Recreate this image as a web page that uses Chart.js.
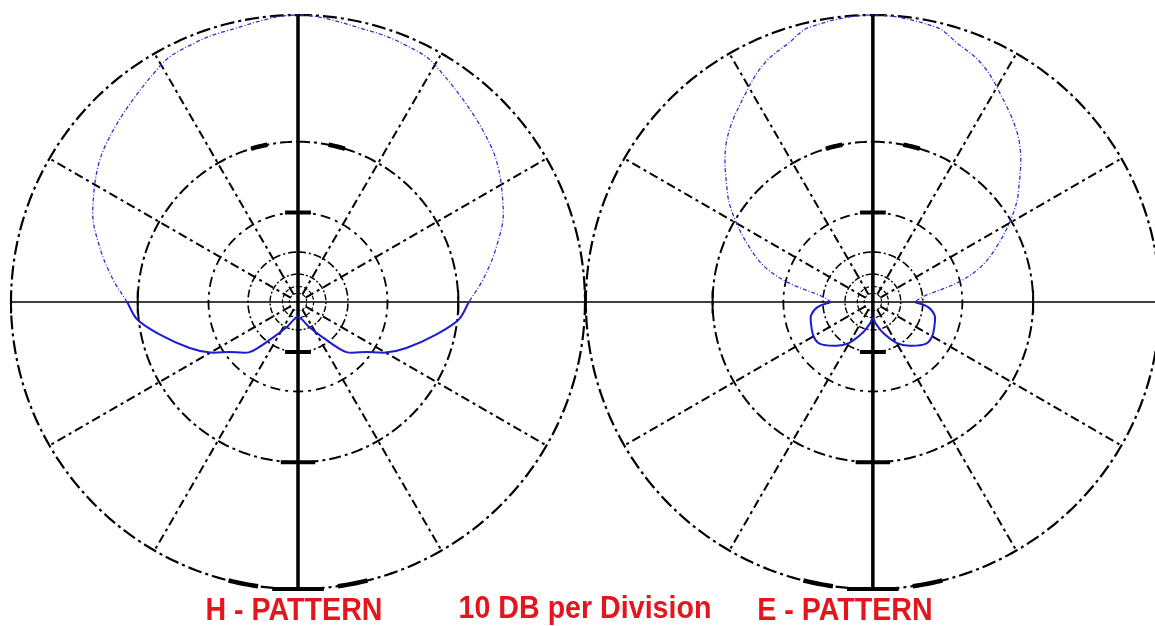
<!DOCTYPE html>
<html>
<head>
<meta charset="utf-8">
<script src="https://cdn.jsdelivr.net/npm/chart.js@4.4.0/dist/chart.umd.min.js"></script>
<style>
  html, body { margin: 0; padding: 0; background: #fff; }
  #wrap { position: relative; width: 1155px; height: 626px; overflow: hidden; }
  .lbl {
    position: absolute;
    transform: translateX(-50%) scale(1.06, 1.14);
    transform-origin: 50% 0;
    font-family: "Liberation Sans", Arial, sans-serif;
    font-weight: bold;
    font-size: 27px;
    line-height: 27px;
    color: #e3161d;
    white-space: nowrap;
  }
</style>
</head>
<body>
<div id="wrap">
  <canvas id="patChart" width="1155" height="626"></canvas>
  <div class="lbl" id="lblH" style="left:294px; top:595px;">H - PATTERN</div>
  <div class="lbl" id="lblDiv" style="left:585px; top:593px;">10 DB per Division</div>
  <div class="lbl" id="lblE" style="left:845px; top:595px;">E - PATTERN</div>
</div>
<script>
document.addEventListener("DOMContentLoaded", function () {
  // grid rings, 10 dB per division (ARRL log scale)
  const gridDb = [0, -10, -20, -30, -40, -50, -60];
  const spokeAngles = [30, 60, 120, 150, 210, 240, 300, 330];

  // H pattern, half pattern (symmetric), angle from top in degrees
  const hUpperAngles = [0, 15, 22, 30, 51, 66, 75, 83, 90];
  const hUpperDb = [0, -0.4, -0.5, -0.8, -2.5, -4.2, -5.8, -7.4, -8.9];
  const hLowerAngles = [90, 96, 103, 113, 120, 126, 136, 145, 156, 180];
  const hLowerDb = [-8.9, -9.8, -12.0, -15.3, -17.9, -20.9, -24.3, -32.5, -40.3, -50.6];

  // E pattern, half pattern
  const eUpperAngles = [0, 13, 18, 24, 30, 42, 53, 59, 66, 72, 77, 84, 90];
  const eUpperDb = [0, -0.3, -0.9, -1.5, -2.5, -4.7, -7.8, -9.9, -12.9, -15.9, -20.4, -29.9, -33];
  const eLowerAngles = [90, 95, 102, 110, 120, 128, 140, 150, 162, 172, 180];
  const eLowerDb = [-33, -28.3, -26, -25.3, -24.6, -24.8, -27.7, -31, -37.6, -44, -49.5];

  // layout: plot radius = 1 unit, two plot centres
  const leftCx = 0;
  const rightCx = 2.003;
  const pxPerUnit = 287;
  const xMin = -298 / pxPerUnit;
  const xMax = xMin + 1155 / pxPerUnit;
  const yMax = 302 / pxPerUnit;
  const yMin = yMax - 626 / pxPerUnit;

  function dbToR(db) {
    return Math.pow(0.89, -db / 2);
  }
  function pt(cx, angDeg, r) {
    const a = angDeg * Math.PI / 180;
    return { x: cx + r * Math.sin(a), y: r * Math.cos(a) };
  }
  const gap = { x: 0, y: null };

  function upperCurve(cx, angles, dbs) {
    const out = [];
    for (let i = angles.length - 1; i > 0; i--) out.push(pt(cx, -angles[i], dbToR(dbs[i])));
    for (let i = 0; i < angles.length; i++) out.push(pt(cx, angles[i], dbToR(dbs[i])));
    return out;
  }
  function lowerCurve(cx, angles, dbs) {
    const out = [];
    for (let i = 0; i < angles.length; i++) out.push(pt(cx, angles[i], dbToR(dbs[i])));
    for (let i = angles.length - 2; i >= 0; i--) out.push(pt(cx, 360 - angles[i], dbToR(dbs[i])));
    return out;
  }
  function arc(cx, r, a0, a1) {
    const out = [];
    for (let a = a0; a <= a1; a += 1) out.push(pt(cx, a, r));
    return out;
  }

  const datasets = [];
  const blueDot = "#3030d4";
  const blueSolid = "#1d1dd0";

  function line(data, color, width, dash, tension) {
    datasets.push({
      data: data,
      showLine: true,
      borderColor: color,
      borderWidth: width,
      borderDash: dash || [],
      tension: tension || 0,
      pointRadius: 0,
      pointHoverRadius: 0,
      fill: false,
      spanGaps: false
    });
  }

  // patterns first so they sit on top
  line(upperCurve(leftCx, hUpperAngles, hUpperDb), blueDot, 1.3, [4, 2, 1, 2], 0.35);
  line(lowerCurve(leftCx, hLowerAngles, hLowerDb), blueSolid, 2, [], 0.3);
  line(upperCurve(rightCx, eUpperAngles, eUpperDb), blueDot, 1.3, [4, 2, 1, 2], 0.35);
  line(lowerCurve(rightCx, eLowerAngles, eLowerDb), blueSolid, 2, [], 0.35);

  const ringWidths = [2.2, 2, 1.8, 1.6, 1.4, 1.2, 1.1];
  const ringDash = [[14, 4, 3, 4], [12, 4, 3, 4], [10, 5, 3, 5], [8, 3, 2, 3], [6, 2, 2, 2], [4, 2], [3, 2]];

  [leftCx, rightCx].forEach(function (cx) {
    // axes
    line([{ x: cx, y: 1 }, { x: cx, y: -1 }], "#000", 3.5);
    // spokes
    const sp = [];
    spokeAngles.forEach(function (a) {
      sp.push(pt(cx, a, dbToR(-60)), pt(cx, a, 1), gap);
    });
    line(sp, "#000", 2, [9, 4, 3, 4]);
    // rings
    gridDb.forEach(function (db, i) {
      line(arc(cx, dbToR(db), 0, 360), "#000", ringWidths[i], ringDash[i]);
    });
    // heavy dashes on rings near the vertical axis
    [[0, 166, 172], [0, 188, 194], [1, -17, -11], [1, 11, 17]].forEach(function (h) {
      line(arc(cx, dbToR(gridDb[h[0]]), h[1], h[2]), "#000", 4.5);
    });
    // tick bars where rings cross the vertical axis
    const tk = [];
    tk.push({ x: cx - 0.09, y: -1 }, { x: cx + 0.09, y: -1 }, gap);
    const rm10 = dbToR(gridDb[1]), rm20 = dbToR(gridDb[2]), rm30 = dbToR(gridDb[3]);
    tk.push({ x: cx - 0.06, y: -rm10 }, { x: cx + 0.06, y: -rm10 }, gap);
    tk.push({ x: cx - 0.045, y: rm20 }, { x: cx + 0.045, y: rm20 }, gap);
    tk.push({ x: cx - 0.045, y: -rm30 }, { x: cx + 0.045, y: -rm30 }, gap);
    line(tk, "#000", 4);
    // ticks where rings cross the horizontal axis
    const vt = [];
    [0, 1].forEach(function (i) {
      const r = dbToR(gridDb[i]);
      vt.push({ x: cx - r, y: 0.04 }, { x: cx - r, y: -0.04 }, gap);
      vt.push({ x: cx + r, y: 0.04 }, { x: cx + r, y: -0.04 }, gap);
    });
    line(vt, "#000", 2);
  });

  // horizontal axis through both plots
  line([{ x: leftCx - 1, y: 0 }, { x: rightCx + 1, y: 0 }], "#000", 1.6);

  const ctx = document.getElementById("patChart").getContext("2d");
  new Chart(ctx, {
    type: "scatter",
    data: { datasets: datasets },
    options: {
      responsive: false,
      animation: false,
      layout: { padding: 0 },
      plugins: { legend: { display: false }, tooltip: { enabled: false } },
      scales: {
        x: { type: "linear", display: false, min: xMin, max: xMax },
        y: { type: "linear", display: false, min: yMin, max: yMax }
      }
    }
  });
});
</script>
</body>
</html>
